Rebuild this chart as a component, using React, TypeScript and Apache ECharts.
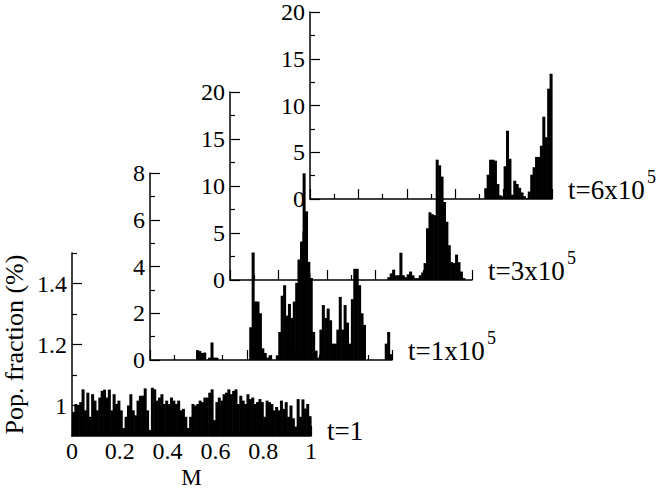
import React, { useEffect, useRef } from 'react';
import * as echarts from 'echarts';

const FONT = 'Liberation Serif';

// bin width of the histograms (100 bins over M = 0..1)
const BIN_WIDTH = 0.01;
const BIN_LEFT: number[] = Array.from({ length: 100 }, (_, i) => i / 100);

// t = 1
const T1: number[] = [
  0.979, 1.005, 1.0, 1.011, 1.053, 0.984, 1.042, 0.963, 1.037, 1.016,
  0.984, 1.026, 1.048, 1.052, 1.026, 1.052, 0.984, 1.037, 1.005, 1.016,
  0.984, 0.926, 0.963, 1.0, 1.037, 0.984, 0.968, 1.016, 1.032, 1.032,
  1.056, 0.984, 0.92, 1.058, 1.053, 1.016, 1.026, 1.037, 1.005, 1.016,
  1.005, 1.026, 1.016, 1.005, 1.016, 0.984, 0.989, 0.963, 0.926, 0.963,
  1.005, 1.0, 1.005, 1.016, 1.011, 1.026, 1.026, 1.042, 1.053, 0.952,
  1.011, 1.026, 1.016, 1.037, 1.042, 1.053, 1.037, 1.048, 1.053, 1.005,
  1.032, 1.016, 1.005, 1.037, 1.021, 1.026, 1.005, 1.011, 1.021, 1.011,
  0.963, 1.016, 1.011, 1.005, 0.984, 0.995, 0.984, 1.016, 0.989, 1.011,
  0.963, 1.0, 0.958, 0.931, 1.021, 0.963, 1.02, 0.99, 1.005, 0.965,
];

// t = 1x10^5
const T1E5: number[] = [
  0, 0, 0, 0, 0, 0, 0, 0, 0, 0,
  0, 0, 0, 0, 0, 0, 0, 0, 0, 0.42,
  0.38, 0.3, 0.32, 0, 0.1, 0.75, 0.1, 0.1, 0, 0,
  0, 0, 0, 0, 0, 0, 0, 0, 0, 0,
  0, 1.4, 4.6, 2.5, 2.5, 2.0, 0.5, 0.3, 0.1, 0.2,
  0, 0, 0.2, 1.2, 2.75, 3.2, 1.9, 2.4, 1.8, 2.5,
  3.3, 4.3, 5.0, 5.5, 5.0, 4.2, 3.5, 1.2, 0.4, 0.1,
  1.3, 2.35, 1.8, 2.2, 1.7, 0.7, 0.7, 1.3, 2.7, 1.3,
  2.35, 1.6, 0.7, 2.6, 3.9, 3.9, 3.2, 2.0, 1.5, 0,
  0, 0, 0, 0, 0, 0, 0, 0.7, 1.2, 0.25,
];

// t = 3x10^5
const T3E5: number[] = [
  0, 0, 0, 0, 0, 0, 0, 0, 0, 0,
  0, 0, 0, 0, 0, 0, 0, 0, 0, 0,
  0, 0, 0, 0, 0, 0, 0, 0, 2.1, 4.1,
  11.35, 7.3, 0.7, 0.2, 0, 0, 0, 0, 0, 0,
  0, 0, 0, 0, 0, 0, 0, 0, 0, 0,
  0, 0, 0, 0, 0, 0, 0, 0, 0, 0,
  0, 0, 0, 0, 0, 0.3, 0.7, 1.1, 0.5, 0.5,
  2.9, 0.5, 0.3, 0.6, 0.9, 0.5, 0.2, 0.2, 0.5, 0.8,
  1.8, 5.5, 7.2, 7.0, 6.9, 12.8, 12.2, 11.0, 8.3, 6.2,
  3.7, 1.9, 1.8, 2.7, 1.9, 0.9, 0.2, 0, 0, 0,
];

// t = 6x10^5
const T6E5: number[] = [
  0, 0, 0, 0, 0, 0, 0, 0, 0, 0,
  0, 0, 0, 0, 0, 0, 0, 0, 0, 0,
  0, 0, 0, 0, 0, 0, 0, 0, 0, 0,
  0, 0, 0, 0, 0, 0, 0, 0, 0, 0,
  0, 0, 0, 0, 0, 0, 0, 0, 0, 0,
  0, 0, 0, 0, 0, 0, 0, 0, 0, 0,
  0, 0, 0, 0, 0, 0, 0, 0, 0, 0,
  0, 0, 1.15, 2.6, 4.2, 4.2, 4.1, 1.6, 0.4, 0.3,
  3.5, 7.3, 4.3, 0.45, 1.95, 1.6, 1.2, 0.7, 0.3, 0.1,
  0.8, 2.6, 3.4, 4.5, 4.5, 5.7, 8.8, 6.6, 11.8, 13.4,
];

const X_LABEL_TICKS = [0, 0.2, 0.4, 0.6, 0.8, 1];
const Y1_MAJOR = [1, 1.2, 1.4];
const Y1_MINOR = [1.1, 1.3, 1.5];
const PANEL_LABELS = ['t=1', 't=1x10', 't=3x10', 't=6x10'];
const PANEL_SUPERSCRIPTS = ['', '5', '5', '5'];

const GRIDS = [
  { left: 69, top: 253, width: 242, height: 187 },
  { left: 150, top: 173, width: 242, height: 187 },
  { left: 230, top: 92, width: 242, height: 188 },
  { left: 310, top: 11, width: 242, height: 188 },
];

const AXIS_LINE = { show: true, lineStyle: { color: '#000', width: 1.5 } };
const TICK_STYLE = { color: '#000', width: 1.2 };

export default function App() {
  const ref = useRef<HTMLDivElement>(null);

  useEffect(() => {
    if (!ref.current) return;
    const chart = echarts.init(ref.current, undefined, { renderer: 'svg' });

    const xAxes = GRIDS.map((_, i) => ({
      type: 'value',
      gridIndex: i,
      min: 0,
      max: 1,
      interval: 0.2,
      position: 'bottom',
      axisLine: AXIS_LINE,
      axisTick: { show: true, inside: true, length: 10, lineStyle: TICK_STYLE },
      minorTick: { show: true, splitNumber: 2, length: 5, lineStyle: TICK_STYLE },
      splitLine: { show: false },
      minorSplitLine: { show: false },
      axisLabel:
        i === 0
          ? {
              show: true,
              color: '#000',
              fontFamily: FONT,
              fontSize: 24,
              margin: 3,
              formatter: (v: number) => {
                const r = X_LABEL_TICKS.find((t) => Math.abs(t - v) < 1e-6);
                return r === undefined ? '' : String(r);
              },
            }
          : { show: false },
      name: i === 0 ? 'M' : '',
      nameLocation: 'middle',
      nameGap: 30,
      nameTextStyle: { color: '#000', fontFamily: FONT, fontSize: 23 },
    }));

    const yLabel = {
      show: true,
      color: '#000',
      fontFamily: FONT,
      fontSize: 24,
      margin: 5,
    };

    const yAxes: any[] = [
      {
        type: 'value',
        gridIndex: 0,
        position: 'left',
        min: 0.9,
        max: 1.5,
        interval: 0.1,
        axisLine: AXIS_LINE,
        axisTick: { show: true, inside: true, length: 10, lineStyle: TICK_STYLE, customValues: Y1_MAJOR },
        axisLabel: {
          ...yLabel,
          customValues: Y1_MAJOR,
          formatter: (v: number) => String(Math.round(v * 10) / 10),
        },
        splitLine: { show: false },
        name: 'Pop. fraction (%)',
        nameLocation: 'middle',
        nameGap: 45,
        nameTextStyle: { color: '#000', fontFamily: FONT, fontSize: 26 },
      },
      {
        type: 'value',
        gridIndex: 0,
        position: 'left',
        min: 0.9,
        max: 1.5,
        interval: 0.1,
        axisLine: { show: false },
        axisTick: { show: true, inside: true, length: 5, lineStyle: TICK_STYLE, customValues: Y1_MINOR },
        axisLabel: { show: false },
        splitLine: { show: false },
      },
      {
        type: 'value',
        gridIndex: 1,
        position: 'left',
        min: 0,
        max: 8,
        interval: 2,
        axisLine: AXIS_LINE,
        axisTick: { show: true, inside: true, length: 10, lineStyle: TICK_STYLE },
        minorTick: { show: true, splitNumber: 2, length: 5, lineStyle: TICK_STYLE },
        axisLabel: yLabel,
        splitLine: { show: false },
      },
      {
        type: 'value',
        gridIndex: 2,
        position: 'left',
        min: 0,
        max: 20,
        interval: 5,
        axisLine: AXIS_LINE,
        axisTick: { show: true, inside: true, length: 10, lineStyle: TICK_STYLE },
        minorTick: { show: true, splitNumber: 2, length: 5, lineStyle: TICK_STYLE },
        axisLabel: yLabel,
        splitLine: { show: false },
      },
      {
        type: 'value',
        gridIndex: 3,
        position: 'left',
        min: 0,
        max: 20,
        interval: 5,
        axisLine: AXIS_LINE,
        axisTick: { show: true, inside: true, length: 10, lineStyle: TICK_STYLE },
        minorTick: { show: true, splitNumber: 2, length: 5, lineStyle: TICK_STYLE },
        axisLabel: yLabel,
        splitLine: { show: false },
      },
    ];

    const panels = [
      { values: T1, yIndex: 0, base: 0.9 },
      { values: T1E5, yIndex: 2, base: 0 },
      { values: T3E5, yIndex: 3, base: 0 },
      { values: T6E5, yIndex: 4, base: 0 },
    ];

    const series = panels.map((p, i) => ({
      type: 'custom',
      name: PANEL_LABELS[i],
      xAxisIndex: i,
      yAxisIndex: p.yIndex,
      silent: true,
      clip: false,
      z: 2,
      data: p.values.map((v, k) => [BIN_LEFT[k], v]),
      renderItem: (_params: any, api: any) => {
        const x0 = api.value(0);
        const v = api.value(1);
        if (!(v > p.base)) return null;
        const top = api.coord([x0, v]);
        const bot = api.coord([x0 + BIN_WIDTH, p.base]);
        return {
          type: 'rect',
          shape: {
            x: top[0],
            y: top[1],
            width: bot[0] - top[0] + 0.6,
            height: bot[1] - top[1],
          },
          style: { fill: '#000' },
        };
      },
    }));

    const graphic: any[] = [];
    GRIDS.forEach((g, i) => {
      const baseY = g.top + g.height;
      const x = g.left + g.width + 16;
      graphic.push({
        type: 'text',
        x,
        y: baseY - 9,
        z: 10,
        style: {
          text: PANEL_LABELS[i],
          fontFamily: FONT,
          fontSize: 27,
          fill: '#000',
          verticalAlign: 'middle',
          align: 'left',
        },
      });
      if (PANEL_SUPERSCRIPTS[i]) {
        graphic.push({
          type: 'text',
          x: x + 79,
          y: baseY - 22,
          z: 10,
          style: {
            text: PANEL_SUPERSCRIPTS[i],
            fontFamily: FONT,
            fontSize: 18,
            fill: '#000',
            verticalAlign: 'middle',
            align: 'left',
          },
        });
      }
    });

    chart.setOption({
      animation: false,
      backgroundColor: '#fff',
      textStyle: { fontFamily: FONT },
      grid: GRIDS.map((g) => ({ ...g, containLabel: false })),
      xAxis: xAxes,
      yAxis: yAxes,
      series,
      graphic,
    } as any);

    return () => chart.dispose();
  }, []);

  return (
    <div
      ref={ref}
      style={{ position: 'absolute', left: 0, top: 0, width: 664, height: 490 }}
    />
  );
}
